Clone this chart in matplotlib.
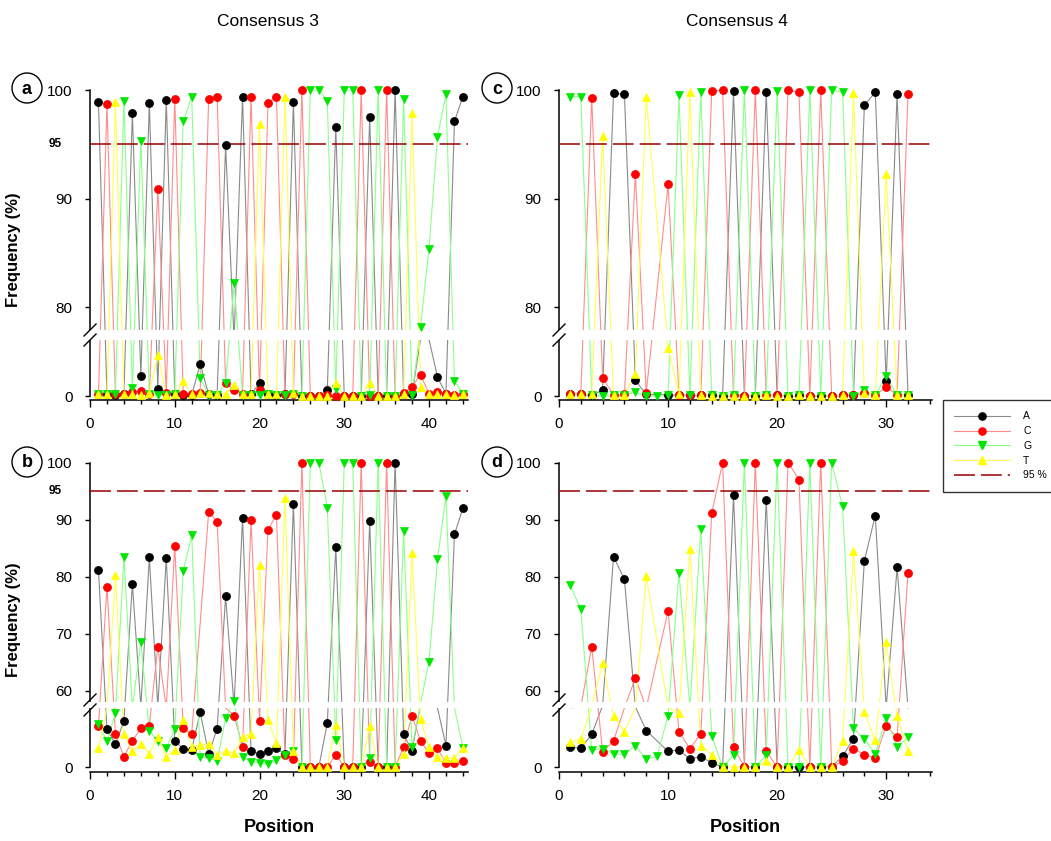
import numpy as np
import matplotlib
matplotlib.use('Agg')
import matplotlib.pyplot as plt
from matplotlib.lines import Line2D
from matplotlib.patches import Ellipse
from matplotlib.ticker import MultipleLocator

plt.rcParams['font.family'] = ['Liberation Sans', 'DejaVu Sans']

nan = np.nan

# ---- data: base frequencies (%) per position ----
pos3 = np.arange(1, 45)
pos4 = np.arange(1, 33)

# consensus 3, panel a
a_A = [98.9, 0.3, 0.2, 0.3, 97.9, 3.6, 98.8, 1.3, 99.1, 0.3,
       0.2, 0.2, 5.7, 0.3, 0.2, 94.9, 14.7, 99.4, 0.3, 2.3,
       0.3, 0.2, 0.3, 98.9, 0.0, 0.0, 0.0, 1.1, 96.6, 0.0,
       0.0, 0.0, 97.5, 0.0, 0.0, 100.0, 0.3, 0.3, 16.3, 14.0,
       3.4, 0.4, 97.1, 99.4]
a_C = [0.3, 98.7, 0.3, 0.4, 0.7, 0.9, 0.3, 90.9, 0.5, 99.2,
       0.3, 0.3, 0.5, 99.2, 99.4, 2.3, 1.1, 0.3, 99.4, 1.0,
       98.8, 99.4, 0.3, 0.4, 100.0, 0.0, 0.0, 0.1, 0.0, 0.0,
       0.0, 100.0, 0.0, 0.0, 100.0, 0.0, 0.5, 1.7, 3.8, 0.4,
       0.8, 0.3, 0.2, 0.3]
a_G = [0.4, 0.3, 0.3, 99.0, 1.4, 95.3, 0.3, 0.2, 0.2, 0.3,
       97.1, 99.4, 3.2, 0.2, 0.2, 2.3, 82.2, 0.2, 0.2, 0.1,
       0.3, 0.2, 0.2, 0.4, 0.0, 100.0, 100.0, 99.0, 1.3, 100.0,
       100.0, 0.0, 0.1, 100.0, 0.0, 0.0, 99.2, 0.1, 78.2, 85.4,
       95.7, 99.6, 2.7, 0.4]
a_T = [0.4, 0.3, 98.9, 0.3, 0.3, 0.2, 0.5, 7.3, 0.2, 0.3,
       2.6, 0.3, 0.5, 0.5, 0.4, 0.4, 2.0, 0.3, 0.4, 96.9,
       0.3, 0.4, 99.4, 0.5, 0.0, 0.0, 0.0, 0.0, 2.3, 0.0,
       0.0, 0.0, 2.3, 0.0, 0.0, 0.0, 0.3, 97.9, 1.7, 0.4,
       0.3, 0.3, 0.2, 0.3]

# consensus 3, panel b
b_A = [81.1, 7.1, 4.2, 8.6, 78.7, 20.0, 83.4, 22.0, 83.2, 4.8,
       3.4, 3.2, 10.2, 2.5, 7.1, 76.5, 29.7, 90.3, 2.9, 2.5,
       3.0, 3.5, 2.4, 92.8, 0.0, 0.0, 0.0, 8.2, 85.1, 0.0,
       0.0, 0.0, 89.7, 0.0, 0.0, 100.0, 6.1, 3.0, 40.0, 28.7,
       11.6, 4.0, 87.4, 92.0]
b_C = [7.7, 78.2, 6.2, 1.9, 4.9, 7.2, 7.7, 67.7, 11.4, 85.4,
       7.2, 6.1, nan, 91.3, 89.6, 11.4, 9.6, 3.8, 89.9, 8.6,
       88.2, 90.8, 2.2, 1.5, 100.0, 0.0, 0.0, 0.0, 2.3, 0.0,
       0.0, 100.0, 1.0, 0.0, 100.0, 0.0, 3.7, 9.6, 4.8, 2.6,
       3.5, 0.7, 0.7, 1.1]
b_G = [8.0, 4.8, 10.0, 83.5, 13.5, 68.5, 6.8, 4.8, 3.5, 7.1,
       81.0, 87.2, 1.8, 1.7, 1.2, 9.1, 58.1, 1.8, 1.0, 0.8,
       0.5, 1.3, 2.2, 3.0, 0.0, 100.0, 100.0, 92.1, 5.0, 100.0,
       100.0, 0.0, 1.7, 100.0, 0.0, 0.0, 88.0, 3.7, 46.0, 65.0,
       83.0, 94.1, 11.2, 3.6]
b_T = [3.5, 11.3, 80.2, 6.2, 2.9, 4.3, 2.5, 5.5, 1.9, 3.2,
       8.8, 3.8, 4.1, 4.3, 2.3, 3.0, 2.6, 5.5, 6.2, 82.1,
       8.8, 4.4, 93.7, 3.0, 0.0, 0.0, 0.0, 0.0, 7.9, 0.0,
       0.0, 0.0, 7.7, 0.0, 0.0, 0.0, 2.4, 84.1, 9.0, 3.7,
       1.9, 1.7, 1.7, 3.6]

# consensus 4, panel c
c_A = [0.3, 0.3, 0.1, 1.1, 99.7, 99.6, 2.8, 0.3, nan, 0.2,
       0.1, 0.1, 0.1, 0.1, 0.0, 99.9, 0.0, 0.0, 99.8, 0.1,
       0.0, 0.1, 0.0, 0.0, 0.0, 0.1, 0.1, 98.6, 99.8, 2.6,
       99.6, 0.2]
c_C = [0.3, 0.3, 99.3, 3.2, 0.2, 0.3, 92.3, 0.6, nan, 91.3,
       0.2, 0.1, 0.1, 99.9, 100.0, 0.1, 0.0, 100.0, 0.1, 0.1,
       100.0, 99.8, 0.0, 100.0, 0.0, 0.1, 0.1, 0.5, 0.1, 1.6,
       0.2, 99.6]
c_G = [99.4, 99.4, 0.2, 0.0, 0.1, 0.2, 0.7, 0.0, 0.0, 0.1,
       99.5, 0.1, 99.8, 0.1, 0.0, 0.1, 100.0, 0.0, 0.1, 99.9,
       0.0, 0.1, 100.0, 0.0, 100.0, 99.8, 0.0, 1.0, 0.1, 3.6,
       0.1, 0.2]
c_T = [0.3, 0.3, 0.4, 95.8, 0.2, 0.2, 4.0, 99.4, nan, 8.5,
       0.3, 99.8, 0.1, 0.0, 0.0, 0.0, 0.0, 0.0, 0.1, 0.0,
       0.0, 0.1, 0.0, 0.0, 0.0, 0.1, 99.7, 0.5, 0.1, 92.3,
       0.2, 0.2]

# consensus 4, panel d
d_A = [3.7, 3.5, 6.1, 29.0, 83.5, 79.5, 20.0, 6.8, nan, 2.9,
       3.2, 1.5, 1.9, 0.8, 0.0, 94.3, 0.0, 0.0, 93.5, 0.0,
       0.0, 0.0, 0.0, 0.0, 0.0, 2.0, 5.3, 82.8, 90.7, 14.7,
       81.6, 11.2]
d_C = [13.2, 17.0, 67.7, 2.8, 4.9, 11.5, 62.2, 11.7, nan, 74.0,
       6.6, 3.4, 6.2, 91.1, 100.0, 3.7, 0.0, 100.0, 3.0, 0.0,
       100.0, 97.0, 0.0, 100.0, 0.0, 1.1, 3.4, 2.3, 1.7, 7.7,
       5.5, 80.6]
d_G = [78.5, 74.3, 3.2, 3.4, 2.4, 2.4, 4.0, 1.4, 2.0, 9.6,
       80.7, 11.3, 88.3, 5.8, 0.0, 2.2, 100.0, 0.0, 2.2, 100.0,
       0.0, 0.0, 100.0, 0.0, 100.0, 92.3, 7.2, 5.2, 2.5, 9.1,
       3.8, 5.5]
d_T = [4.6, 5.2, 23.0, 64.8, 9.5, 6.6, 13.8, 80.1, nan, 13.5,
       10.1, 84.8, 4.0, 2.3, 0.0, 0.0, 0.0, 0.0, 1.1, 0.0,
       0.0, 3.2, 0.0, 0.0, 0.0, 4.8, 84.4, 10.2, 5.0, 68.5,
       9.5, 2.9]

bases = ['A', 'C', 'G', 'T']
style = {
    'A': dict(lc='#8a8a8a', mc='black', m='o', ms=5.8),
    'C': dict(lc='#ff8c8c', mc='#ff0000', m='o', ms=5.8),
    'G': dict(lc='#8cff8c', mc='#00e600', m='v', ms=5.6),
    'T': dict(lc='#ffff55', mc='#ffff00', m='^', ms=5.6),
}
cut_color = '#990000'
cut_dash = (13.7, 3.9)

W, H = 1051, 841
fig = plt.figure(figsize=(W / 100, H / 100), dpi=100)


def broken(lo, lo_px, gap_px, up0, up_ppu):
    # piecewise linear y scale: [0, lo] | gap | [up0, 100]
    def fwd(v):
        v = np.asarray(v, dtype=float)
        mid = lo_px + (v - lo) / (up0 - lo) * gap_px
        top = lo_px + gap_px + (v - up0) * up_ppu
        return np.where(v <= lo, v * lo_px / lo, np.where(v < up0, mid, top))

    def inv(s):
        s = np.asarray(s, dtype=float)
        low = s * lo / lo_px
        mid = lo + (s - lo_px) / gap_px * (up0 - lo)
        top = up0 + (s - lo_px - gap_px) / up_ppu
        return np.where(s <= lo_px, low, np.where(s < lo_px + gap_px, mid, top))
    return fwd, inv


def panel(px, pos, series, xmax, lo, lo_px, gap_px, up0, up_ppu, ybot, yticks, label95):
    x0, x1, ytop, ybottom = px
    ax = fig.add_axes([x0 / W, 1 - ybottom / H, (x1 - x0) / W, (ybottom - ytop) / H])
    fwd, inv = broken(lo, lo_px, gap_px, up0, up_ppu)
    ax.set_yscale('function', functions=(fwd, inv))
    ax.set_ylim(ybot, 100)
    ax.set_xlim(0, xmax)

    for b, vals in zip(bases, series):
        vals = np.asarray(vals, dtype=float)
        st = style[b]
        ok = ~np.isnan(vals)
        ax.plot(pos[ok], vals[ok], color=st['lc'], lw=0.8, zorder=2)
        shown = np.where((vals > lo) & (vals < up0), nan, vals)
        ax.plot(pos, shown, ls='none', marker=st['m'], ms=st['ms'],
                mfc=st['mc'], mec=st['mc'], mew=0.5, zorder=3, clip_on=False)

    ax.axhline(95, color=cut_color, lw=1.1, dashes=cut_dash, zorder=2.8)
    ax.axhspan(lo, up0, xmin=-0.03, xmax=1, fc='white', ec='none',
               zorder=2.6, clip_on=False)

    for s in ['top', 'right']:
        ax.spines[s].set_visible(False)
    ax.spines['left'].set_bounds(0, 100)
    for s in ['left', 'bottom']:
        ax.spines[s].set_linewidth(1.1)

    ax.set_yticks(yticks)
    ax.set_yticklabels([str(t) for t in yticks])
    ax.xaxis.set_major_locator(MultipleLocator(10))
    ax.xaxis.set_minor_locator(MultipleLocator(2))
    ax.tick_params(axis='y', direction='out', length=3.6, width=1, pad=9, labelsize=11)
    ax.tick_params(axis='x', which='major', direction='out', length=5, width=1, pad=7, labelsize=11)
    ax.tick_params(axis='x', which='minor', direction='out', length=3, width=1)

    if label95:
        ax.text(-0.093, 95, '95', transform=ax.get_yaxis_transform(), ha='center',
                va='center', fontsize=8.5, fontweight='bold')

    # break marks on the y axis
    vmid = float(inv(lo_px + gap_px / 2))
    cx, cy = ax.transData.transform((0, vmid))
    inv_fig = fig.transFigure.inverted()
    for dy in (-5, 5):
        p = inv_fig.transform([(cx - 6, cy + dy - 6), (cx + 6, cy + dy + 6)])
        fig.add_artist(Line2D(p[:, 0], p[:, 1], color='black', lw=1.0, transform=fig.transFigure))
    return ax


top_cfg = dict(lo=10, lo_px=56, gap_px=10, up0=77.9, up_ppu=10.86, ybot=-0.71, yticks=[0, 80, 90, 100])
bot_cfg = dict(lo=11, lo_px=59, gap_px=6, up0=58, up_ppu=5.7, ybot=-0.93, yticks=[0, 60, 70, 80, 90, 100])

panel((90, 468, 90, 400), pos3, [a_A, a_C, a_G, a_T], 44.6, label95=True, **top_cfg)
panel((90, 468, 462.5, 772), pos3, [b_A, b_C, b_G, b_T], 44.6, label95=True, **bot_cfg)
panel((559, 932, 90, 400), pos4, [c_A, c_C, c_G, c_T], 34.2, label95=False, **top_cfg)
panel((559, 932, 462.5, 772), pos4, [d_A, d_C, d_G, d_T], 34.2, label95=False, **bot_cfg)

# titles and axis labels
fig.text(268 / W, 1 - 22 / H, 'Consensus 3', ha='center', va='center', fontsize=12.5)
fig.text(737 / W, 1 - 22 / H, 'Consensus 4', ha='center', va='center', fontsize=12.5)
for yc in (250, 620):
    fig.text(14 / W, 1 - yc / H, 'Frequency (%)', rotation=90, ha='center', va='center',
             fontsize=12, fontweight='bold')
for xc in (279, 745):
    fig.text(xc / W, 1 - 828 / H, 'Position', ha='center', va='center',
             fontsize=13, fontweight='bold')

# panel letters in circles
for letter, (lx, ly) in zip('abcd', [(27, 88), (27, 462), (497, 88), (497, 462)]):
    fig.add_artist(Ellipse((lx / W, 1 - ly / H), 30 / W, 30 / H, transform=fig.transFigure,
                           fill=False, ec='black', lw=1.0))
    fig.text(lx / W, 1 - (ly + 1) / H, letter, ha='center', va='center',
             fontsize=13, fontweight='bold')

# legend
handles = [Line2D([], [], color=style[b]['lc'], lw=0.8, marker=style[b]['m'], ms=5.2,
                  mfc=style[b]['mc'], mec=style[b]['mc']) for b in bases]
handles.append(Line2D([], [], color=cut_color, lw=1.1, dashes=cut_dash))
leg = fig.legend(handles, bases + ['95 %'], loc='upper left',
                 bbox_to_anchor=(943 / W, 1 - 400 / H), frameon=True, fancybox=False,
                 edgecolor='black', fontsize=7.5, handlelength=5.3, handletextpad=1.3,
                 borderpad=1.1, labelspacing=0.45, borderaxespad=0, numpoints=1)
leg.get_frame().set_linewidth(1.0)

fig.savefig('out.png', dpi=100)
